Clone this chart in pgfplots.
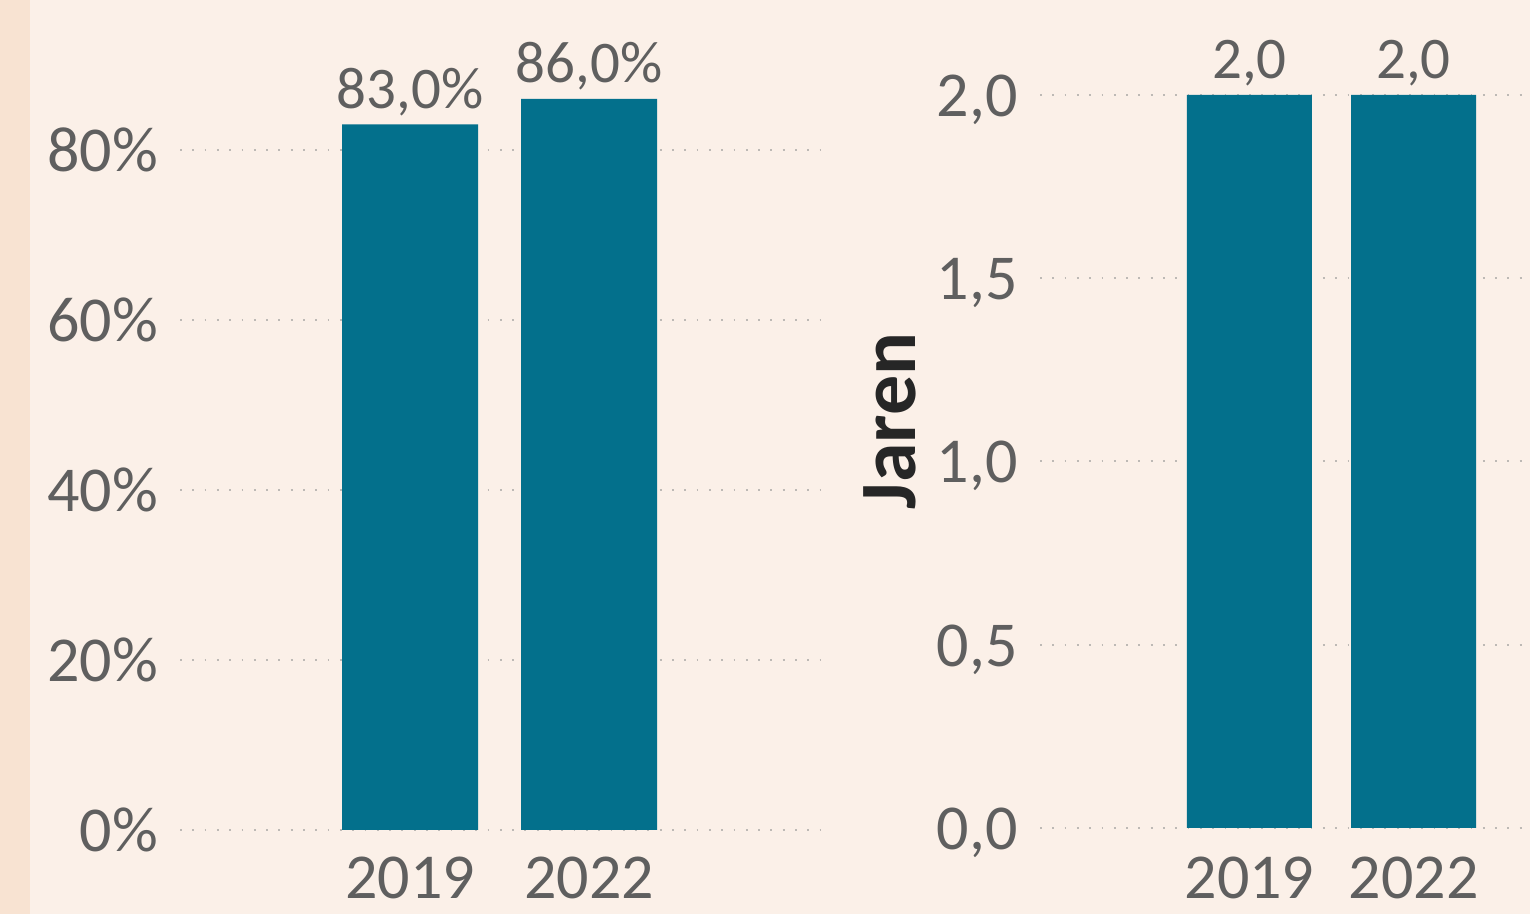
\documentclass[border=0pt]{standalone}
\usepackage{fontspec}
\setmainfont{Carlito}
\usepackage{pgfplots}
\pgfplotsset{compat=1.18}
\definecolor{bgcol}{HTML}{FBF0E8}
\definecolor{stripcol}{HTML}{F8E3D2}
\definecolor{barcol}{HTML}{03708C}
\definecolor{txtgray}{HTML}{5F5F5F}
\definecolor{gridgray}{HTML}{BDB9B5}
\pgfplotsset{
  /pgf/number format/assume math mode=true,
  mybars/.style={
    scale only axis, anchor=south west, clip=false,
    enlargelimits=false,
    axis line style={draw=none},
    major tick length=0pt,
    ymajorgrids,
    grid style={gridgray, line width=2bp, dash pattern=on 1.8bp off 10.5bp},
    xtick={0,1}, xticklabels={2019,2022},
    tick label style={txtgray, font=\fontsize{64bp}{70bp}\selectfont},
    xticklabel style={anchor=north, inner sep=0pt, yshift=-29bp},
    yticklabel style={anchor=base east, inner sep=0pt, xshift=-22bp, yshift=-21.5bp},
    ybar, 
    nodes near coords style={txtgray, font=\fontsize{59bp}{65bp}\selectfont, anchor=base, inner sep=0pt, yshift=16bp},
  }
}
\begin{document}
\begin{tikzpicture}
\fill[bgcol] (0,0) rectangle (1530bp,914bp);
\fill[stripcol] (0,0) rectangle (30bp,914bp);
\useasboundingbox (0,0) rectangle (1530bp,914bp);
\begin{axis}[mybars,
  at={(180bp,84bp)}, width=640bp, height=830bp,
  xmin=-1.285, xmax=2.29, ymin=0, ymax=97.647,
  ytick={0,20,40,60,80},
  yticklabel={\pgfmathprintnumber{\tick}\%},
  xticklabel style={yshift=2bp},
  bar width=136bp,
  nodes near coords={\pgfmathprintnumber[fixed,fixed zerofill,precision=1,use comma]{\pgfplotspointmeta}\%},
]
\addplot[fill=barcol, draw=none] coordinates {(0,83) (1,86)};
\end{axis}
\begin{axis}[mybars,
  at={(1040bp,86bp)}, width=490bp, height=828bp,
  xmin=-1.277, xmax=1.71, ymin=0, ymax=2.2592,
  ytick={0,0.5,1,1.5,2},
  yticklabel={\pgfmathprintnumber[fixed,fixed zerofill,precision=1,use comma]{\tick}},
  bar width=125bp,
  nodes near coords={\pgfmathprintnumber[fixed,fixed zerofill,precision=1,use comma]{\pgfplotspointmeta}},
  ylabel={Jaren},
  ylabel style={at={(axis description cs:-0.306,0.4915)}, anchor=center, color=black!85, font=\fontsize{80bp}{88bp}\selectfont\bfseries},
]
\addplot[fill=barcol, draw=none] coordinates {(0,2.0) (1,2.0)};
\end{axis}
\end{tikzpicture}
\end{document}
